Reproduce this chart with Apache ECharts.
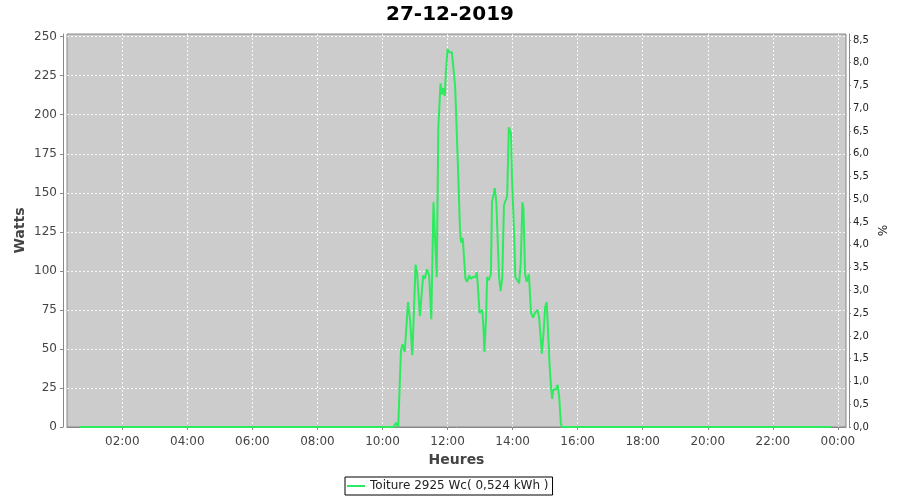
<!DOCTYPE html>
<html>
<head>
<meta charset="utf-8">
<script src="https://cdn.jsdelivr.net/npm/echarts@6/dist/echarts.min.js"></script>
<style>
html,body{margin:0;padding:0;background:#fff;}
#chart{width:900px;height:500px;}
</style>
</head>
<body>
<div id="chart"></div>
<script>
// ---- data ----
const times = ["00:42","02:00","04:00","06:00","08:00","10:00","10:20","10:25","10:29","10:34","10:37","10:41","10:47","10:51","10:55",
  "11:01","11:04","11:09","11:15","11:18","11:22","11:26","11:30","11:34","11:37","11:40","11:43","11:47","11:50","11:52","11:55","11:57",
  "12:00","12:03","12:05","12:08","12:11","12:14","12:19","12:23","12:25","12:28","12:33","12:36","12:40","12:43","12:47","12:51","12:54","12:56","12:59",
  "13:04","13:06","13:08","13:11","13:13","13:16","13:20","13:22","13:27","13:30","13:33","13:35","13:38","13:41","13:44","13:47","13:50","13:53","13:57","13:59",
  "14:03","14:05","14:09","14:12","14:15","14:18","14:20","14:23","14:26","14:30","14:34","14:38","14:41","14:46","14:49","14:54","14:57",
  "15:00","15:03","15:08","15:11","15:13","15:15","15:20","15:23","15:26","15:29","15:31","16:00","18:00","20:00","22:00","23:47"];
const watts = [0,0,0,0,0,0,0,2.7,0,49,53,48,80,68,46,
  104,98,71,97,95,101,97,69,144,120,96,192,220,213,217,212,228,
  242,240,241,240,240,218,169,126,118,121,95,93,97,95,96,96,99,90,73,
  75,65,48,70,96,94,98,144,153,144,115,96,87,96,142,145,148,192,188,158,
  122,96,94,92,105,144,140,98,93,98,73,70,73,75,70,47,60,
  77,80,41,25,18,24,24,27,19,2,0,0,0,0,0,0];
const xTickHours = [2,4,6,8,10,12,14,16,18,20,22,24];
const leftTicks = [0,25,50,75,100,125,150,175,200,225,250];
const rightTicks = [0,0.5,1,1.5,2,2.5,3,3.5,4,4.5,5,5.5,6,6.5,7,7.5,8,8.5];
const seriesName = "Toiture 2925 Wc( 0,524 kWh )";

function toHours(t){ const p=t.split(':'); return (+p[0]) + (+p[1])/60; }
const seriesData = times.map((t,i)=>[toHours(t), watts[i]]);
const FONT = "DejaVu Sans";
const pad = n => (n<10?'0':'')+n;
const GRID_LINE = {color:'rgba(255,255,255,0.85)', width:1, type:[2,2]};

const chart = echarts.init(document.getElementById('chart'), null, {renderer:'canvas'});
chart.setOption({
  animation:false,
  backgroundColor:'#ffffff',
  title:{text:'27-12-2019', left:'center', top:0,
    textStyle:{fontFamily:FONT, fontSize:20, fontWeight:'bold', color:'#000'}},
  grid:{left:67, right:54, top:34, bottom:73, show:true, backgroundColor:'#cccccc',
    borderColor:'#888888', borderWidth:1},
  legend:{left:345, top:477, data:[seriesName], icon:'rect', itemWidth:18, itemHeight:2, itemGap:4,
    borderColor:'#000', borderWidth:1, padding:[3,4,3,2], backgroundColor:'#fff',
    textStyle:{fontFamily:FONT, fontSize:12, color:'#222'}},
  xAxis:{type:'value', min:0.30, max:24.25, offset:4,
    axisLine:{show:true, lineStyle:{color:'#888', width:1}},
    axisTick:{show:true, customValues:xTickHours, length:3, lineStyle:{color:'#888'}},
    axisLabel:{customValues:xTickHours, formatter:v=>pad(Math.round(v)%24)+':00',
      color:'#444', fontFamily:FONT, fontSize:12, margin:5},
    splitLine:{show:true, lineStyle:GRID_LINE},
    name:'Heures', nameLocation:'middle', nameGap:22,
    nameTextStyle:{fontFamily:FONT, fontSize:14, fontWeight:'bold', color:'#444'}},
  yAxis:[
    {type:'value', position:'left', min:0, max:251.7, offset:4,
      axisLine:{show:true, lineStyle:{color:'#888', width:1}},
      axisTick:{show:true, customValues:leftTicks, length:3, lineStyle:{color:'#888'}},
      axisLabel:{customValues:leftTicks, color:'#444', fontFamily:FONT, fontSize:12, margin:6},
      splitLine:{show:true, lineStyle:GRID_LINE},
      name:'Watts', nameLocation:'middle', nameGap:36, nameRotate:90, nameMoveOverlap:false,
      nameTextStyle:{fontFamily:FONT, fontSize:14, fontWeight:'bold', color:'#444'}},
    {type:'value', position:'right', min:0, max:8.63, offset:3,
      axisLine:{show:true, lineStyle:{color:'#888', width:1}},
      axisTick:{show:true, customValues:rightTicks, length:2, lineStyle:{color:'#888'}},
      axisLabel:{customValues:rightTicks, formatter:v=>v.toFixed(1).replace('.',','),
        color:'#222', fontFamily:FONT, fontSize:10, margin:4},
      splitLine:{show:false},
      name:'%', nameLocation:'middle', nameGap:26, nameRotate:-90, nameMoveOverlap:false,
      nameTextStyle:{fontFamily:FONT, fontSize:12, color:'#222'}}
  ],
  series:[{name:seriesName, type:'line', yAxisIndex:0, data:seriesData, showSymbol:false, symbol:'none',
    lineStyle:{color:'#2deb5f', width:2}, itemStyle:{color:'#2deb5f'}}]
});
</script>
</body>
</html>
